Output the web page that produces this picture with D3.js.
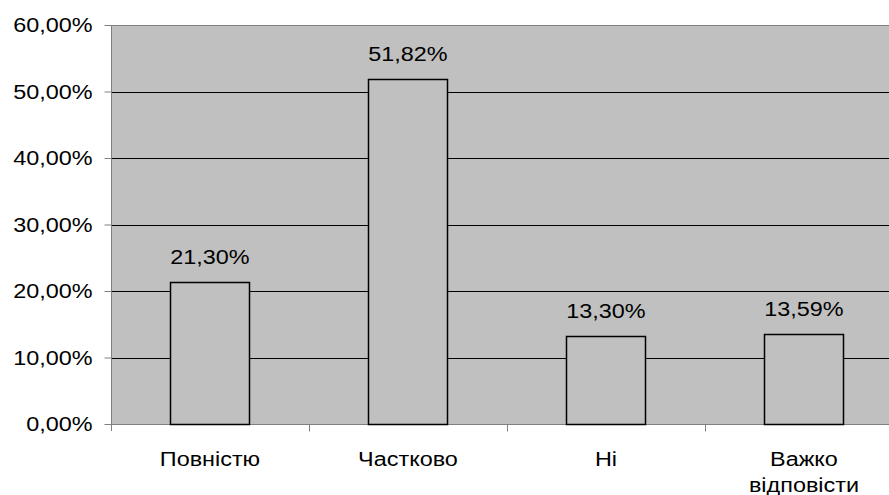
<!DOCTYPE html>
<html>
<head>
<meta charset="utf-8">
<script src="https://cdn.jsdelivr.net/npm/d3@7"></script>
<style>
  body { margin: 0; background: #fff; }
  text { font-family: "Liberation Sans", Arial, sans-serif; fill: #000; }
</style>
</head>
<body>
<div id="chart"></div>
<script>
// данные диаграммы
const categories = ['Повністю', 'Частково', 'Ні', 'Важко відповісти'];
const values = [21.30, 51.82, 13.30, 13.59];
const yTicks = [0, 10, 20, 30, 40, 50, 60];

const W = 889, H = 495;
const plotLeft = 111, plotTop = 25, plotBottom = 424;
const band = 198;           // ширина категории (правый край за пределами картинки)
const stretch = 1.2;        // шрифт в оригинале растянут по горизонтали

const fmt = v => v.toFixed(2).replace('.', ',') + '%';

const svg = d3.select('#chart').append('svg')
  .attr('width', W).attr('height', H);

const x = d3.scaleBand()
  .domain(categories)
  .range([plotLeft, plotLeft + band * categories.length])
  .paddingInner(0).paddingOuter(0);

const y = d3.scaleLinear().domain([0, 60]).range([plotBottom, plotTop]);

// фон области построения
svg.append('rect')
  .attr('x', plotLeft).attr('y', plotTop)
  .attr('width', W - plotLeft).attr('height', plotBottom - plotTop)
  .attr('fill', '#c0c0c0');

// линии сетки
svg.append('g')
  .selectAll('line')
  .data(yTicks.filter(d => d > 0 && d < 60))
  .enter().append('line')
  .attr('x1', plotLeft).attr('x2', W)
  .attr('y1', d => Math.round(y(d)) + 0.5).attr('y2', d => Math.round(y(d)) + 0.5)
  .attr('stroke', '#000').attr('stroke-width', 1);

// верхняя граница
svg.append('line')
  .attr('x1', plotLeft).attr('x2', W)
  .attr('y1', plotTop + 0.5).attr('y2', plotTop + 0.5)
  .attr('stroke', '#808080');

// ось X (под столбцами)
const xAxis = svg.append('g')
  .attr('transform', `translate(0,${plotBottom + 0.5})`);
xAxis.append('line')
  .attr('x1', plotLeft).attr('x2', W).attr('y1', 0).attr('y2', 0)
  .attr('stroke', '#808080');
xAxis.selectAll('.xt')
  .data(categories.slice(1))
  .enter().append('line')
  .attr('x1', d => Math.round(x(d)) + 0.5).attr('x2', d => Math.round(x(d)) + 0.5)
  .attr('y1', 0).attr('y2', 7)
  .attr('stroke', '#808080');

// столбцы
const bw = band * 0.4;
svg.append('g')
  .selectAll('rect')
  .data(values)
  .enter().append('rect')
  .attr('x', (d, i) => Math.round(x(categories[i]) + (band - bw) / 2) + 0.5)
  .attr('y', d => Math.round(y(d)) + 0.5)
  .attr('width', Math.round(bw))
  .attr('height', d => Math.round(plotBottom - y(d)))
  .attr('fill', '#c0c0c0')
  .attr('stroke', '#000')
  .attr('stroke-width', 1.5);

// подписи значений
svg.append('g')
  .selectAll('text')
  .data(values)
  .enter().append('text')
  .attr('class', 'wide')
  .attr('x', (d, i) => x(categories[i]) + band / 2)
  .attr('y', d => y(d) - 18)
  .attr('text-anchor', 'middle')
  .style('font-size', '19.5px')
  .text(d => fmt(d));

// ось Y
const yAxis = svg.append('g')
  .attr('transform', `translate(${plotLeft + 0.5},0)`)
  .call(d3.axisLeft(y).tickValues(yTicks).tickSize(7).tickPadding(12).tickFormat(fmt));
yAxis.select('.domain').attr('stroke', '#808080').attr('d', `M0,${plotTop}V${plotBottom + 7}`);
yAxis.selectAll('.tick line').attr('stroke', '#808080');
yAxis.selectAll('.tick text')
  .attr('class', 'wide')
  .style('font-size', '19.5px')
  .style('font-family', '"Liberation Sans", Arial, sans-serif')
  .attr('dy', '0.35em');

// подписи категорий
const xl = svg.append('g')
  .selectAll('text')
  .data(categories)
  .enter().append('text')
  .attr('text-anchor', 'middle')
  .attr('x', d => x(d) + band / 2)
  .attr('y', 466)
  .style('font-size', '19.5px');
xl.each(function(d) {
  const words = d === 'Важко відповісти' ? ['Важко', 'відповісти'] : [d];
  const t = d3.select(this);
  words.forEach((w, i) => {
    t.append('tspan')
      .attr('class', 'wide')
      .attr('x', x(d) + band / 2)
      .attr('dy', i === 0 ? 0 : 26)
      .text(w);
  });
});

// растягиваем текст по ширине как в оригинале
svg.selectAll('text.wide, tspan.wide').each(function() {
  const len = this.getComputedTextLength();
  d3.select(this)
    .attr('textLength', len * stretch)
    .attr('lengthAdjust', 'spacingAndGlyphs');
});
</script>
</body>
</html>
